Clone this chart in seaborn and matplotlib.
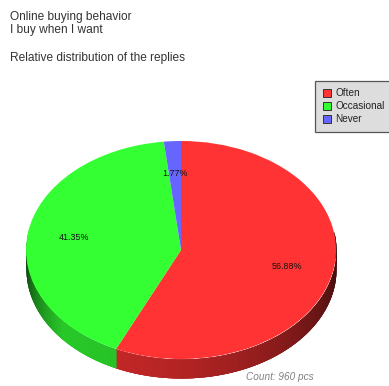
import numpy as np
import matplotlib
matplotlib.use("Agg")
import matplotlib.pyplot as plt
from matplotlib.patches import Patch
import seaborn as sns

# Survey replies
categories = ["Often", "Occasional", "Never"]
shares = [56.88, 41.35, 1.77]
colors = ["#FF3333", "#33FF33", "#6666FF"]
title_lines = ["Online buying behavior", "I buy when I want", "Relative distribution of the replies"]
count_note = "Count: 960 pcs"

sns.set_theme(style="white")
plt.rcParams["font.family"] = ["Liberation Sans", "DejaVu Sans"]

W, H = 389, 386
fig = plt.figure(figsize=(W / 100, H / 100), dpi=100, facecolor="white")

# Plot area in pixels: flattened disc plus the rim below it
left, right, top, disc_bottom, rim = 26, 336, 141, 359, 19
ry = (disc_bottom - top) / 2
depth = rim / ry
ax = fig.add_axes([left / W, (H - disc_bottom - rim) / H,
                   (right - left) / W, (disc_bottom - top + rim) / H])

wedges, _, autotexts = ax.pie(
    shares, colors=colors, startangle=90, counterclock=False, radius=1,
    autopct="%.2f%%", pctdistance=0.7,
    textprops=dict(fontsize=6.4, color="#111111"),
    wedgeprops=dict(linewidth=0, zorder=3),
)
for t in autotexts:
    t.set_zorder(5)
ax.set_aspect("auto")
ax.set_xlim(-1, 1)
ax.set_ylim(-1 - depth, 1)
ax.set_axis_off()


def rim_shade(angle):
    """Brightness of the rim for a clockwise angle from the top of the disc."""
    if angle < 230:
        return 0.24 + 0.54 * np.sin(np.radians((angle - 90) / 140 * 90))
    return 0.78 - 0.54 * (angle - 230) / 40


# Rim: overlapping thin strips painted from the right side round to the left
edges = np.cumsum([0] + shares) / sum(shares) * 360
for a0 in np.arange(80, 280, 0.25):
    mid = a0 + 0.125
    idx = min(np.searchsorted(edges, mid) - 1, len(shares) - 1)
    base = np.array(matplotlib.colors.to_rgb(colors[idx]))
    a = np.radians(np.linspace(a0, a0 + 1.0, 5))
    x, y = np.sin(a), np.cos(a)
    shade = rim_shade(np.clip(mid, 90, 270))
    ax.fill_between(x, y, y - depth, color=base * shade, linewidth=0, zorder=1)

# Heading block and footnote
title_y = [17, 30, 58]
for line, y in zip(title_lines, title_y):
    fig.text(10 / W, 1 - y / H, line, fontsize=8.55, color="#333333", va="center", ha="left")
fig.text(280 / W, 1 - 377 / H, count_note, fontsize=7.2, style="italic",
         color="#808080", va="center", ha="center")

# Legend box at the upper right
handles = [Patch(facecolor=c, edgecolor="#333333", linewidth=0.7, label=n)
           for c, n in zip(colors, categories)]
leg = fig.legend(handles=handles, loc="upper left", bbox_to_anchor=(315 / W, 1 - 80.5 / H),
                 frameon=True, fancybox=False, facecolor="#DDDDDD", edgecolor="#555555",
                 framealpha=1, fontsize=7.2, labelcolor="#222222",
                 handlelength=0.85, handleheight=0.85, handletextpad=0.4,
                 labelspacing=0.32, borderpad=0.75, borderaxespad=0)
leg.get_frame().set_linewidth(0.9)

fig.savefig("out.png", dpi=100, facecolor="white")
